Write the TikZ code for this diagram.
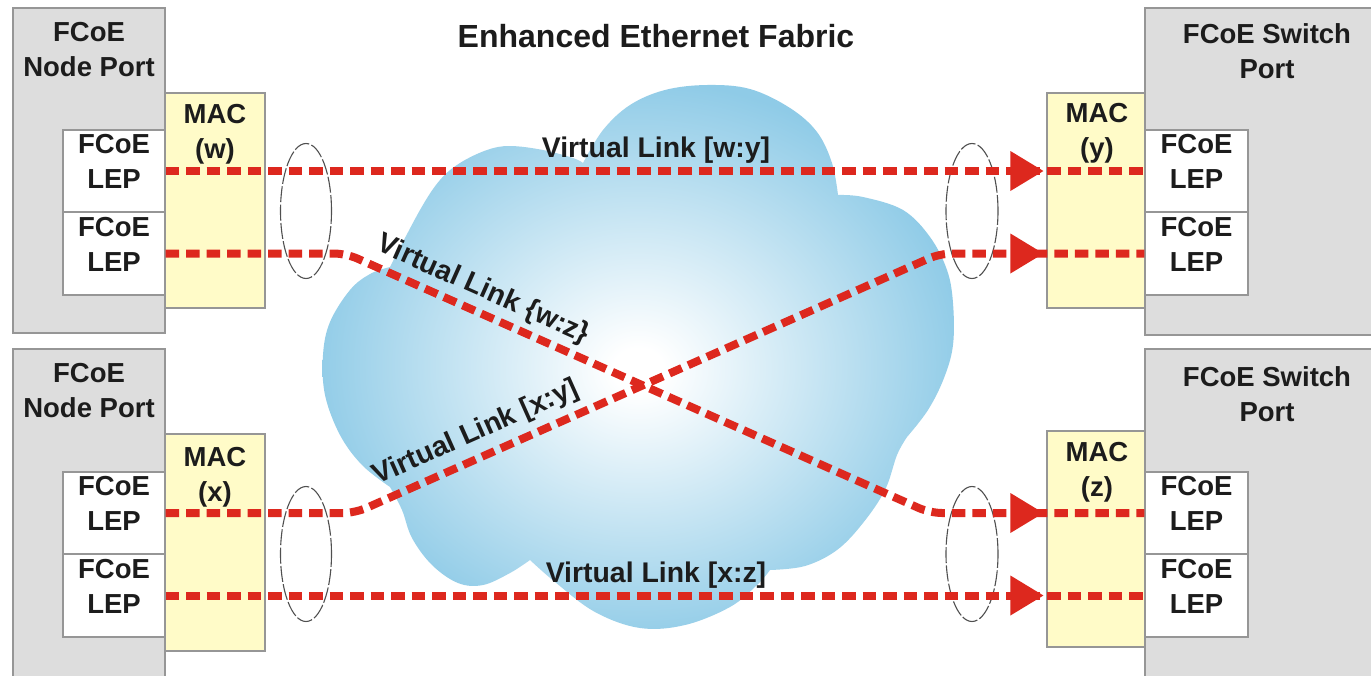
\documentclass[tikz,border=0pt]{standalone}
\usepackage{fontspec}
\setmainfont{Liberation Sans}
\usetikzlibrary{shapes.geometric,fit,decorations.markings,arrows.meta}

\definecolor{portgray}{RGB}{221,221,221}
\definecolor{edgegray}{RGB}{150,150,150}
\definecolor{macyellow}{RGB}{255,251,200}
\definecolor{linkred}{RGB}{221,40,30}
\definecolor{cloudblue}{RGB}{143,203,231}
\definecolor{inkdark}{RGB}{28,28,28}
\definecolor{ringgray}{RGB}{80,80,80}

\newcommand{\fcoeFont}{\fontsize{13.75}{17.5}\selectfont\bfseries}
\newcommand{\linkFont}{\fontsize{14.2}{17}\selectfont\bfseries}
\newcommand{\headFont}{\fontsize{16}{19}\selectfont\bfseries}

% white core fading to sky blue towards the rim of the cloud
\pgfdeclareradialshading{cloudshade}{\pgfpoint{0bp}{-1.2bp}}{%
  color(0bp)=(white); color(2bp)=(white); color(26bp)=(cloudblue); color(50bp)=(cloudblue)}

\begin{document}
\begin{tikzpicture}[x=0.5pt,y=-0.5pt,
  portbox/.style={draw=edgegray, fill=portgray, line width=0.6pt, inner sep=0pt},
  macbox/.style={draw=edgegray, fill=macyellow, line width=0.6pt, inner sep=0pt},
  lepbox/.style={draw=edgegray, fill=white, line width=0.6pt, inner sep=0pt,
                 font=\fcoeFont, text=inkdark, align=center},
  boxtext/.style={font=\fcoeFont, text=inkdark, align=center, inner sep=0pt},
  ring/.style={ellipse, draw=ringgray, line width=0.55pt, dash pattern=on 8pt off 1.2pt, inner sep=0pt},
  link/.style={draw=linkred, line width=4pt, dash pattern=on 6.75pt off 3.5pt},
  tipped/.style={postaction={decorate, decoration={markings,
      mark=at position -50.5pt with {\arrow{Triangle[length=16.5pt,width=20pt,line width=0pt,color=linkred,fill=linkred]}}}}},
  linklabel/.style={font=\linkFont, text=inkdark, inner sep=0pt},
  headtext/.style={font=\headFont, text=inkdark, inner sep=0pt}
]
\useasboundingbox (0,0) rectangle (1371,675);
\fill[white] (0,0) rectangle (1371,675);

% ---------- node ports (left) ----------
\node[portbox, fit={(13,8) (165,333)}] (npW) {};
\node[portbox, fit={(13,349) (165,700)}] (npX) {};
\node[boxtext] at (89,50) {FCoE\\Node Port};
\node[boxtext] at (89,391) {FCoE\\Node Port};

\node[macbox, fit={(165,93) (265,308)}] (macW) {};
\node[macbox, fit={(165,434) (265,651)}] (macX) {};
\node[boxtext, anchor=north] at (215,104) {MAC\\(w)};
\node[boxtext, anchor=north] at (215,447) {MAC\\(x)};

\node[lepbox, fit={(63,130) (165,212)}] (lepW1) {FCoE\\LEP};
\node[lepbox, fit={(63,212) (165,295)}] (lepW2) {FCoE\\LEP};
\node[lepbox, fit={(63,472) (165,554)}] (lepX1) {FCoE\\LEP};
\node[lepbox, fit={(63,554) (165,637)}] (lepX2) {FCoE\\LEP};

% ---------- switch ports (right) ----------
\node[portbox, fit={(1145,8) (1400,335)}] (spY) {};
\node[portbox, fit={(1145,349) (1400,700)}] (spZ) {};
\node[boxtext] at (1267,51.5) {FCoE Switch\\Port};
\node[boxtext] at (1267,394.5) {FCoE Switch\\Port};

\node[macbox, fit={(1047,93) (1145,308)}] (macY) {};
\node[macbox, fit={(1047,431) (1145,647)}] (macZ) {};
\node[boxtext, anchor=north] at (1097,103) {MAC\\(y)};
\node[boxtext, anchor=north] at (1097,442) {MAC\\(z)};

\node[lepbox, fit={(1145,130) (1248,212)}] (lepY1) {FCoE\\LEP};
\node[lepbox, fit={(1145,212) (1248,295)}] (lepY2) {FCoE\\LEP};
\node[lepbox, fit={(1145,472) (1248,554)}] (lepZ1) {FCoE\\LEP};
\node[lepbox, fit={(1145,554) (1248,637)}] (lepZ2) {FCoE\\LEP};

% ---------- the fabric cloud ----------
\shade[shading=cloudshade]
  plot[smooth,tension=0.6] coordinates {(583,163) (603,130) (630,105) (665,90) (707,85) (750,89) (790,108) (817,132) (832,163) (838,195)}
  -- plot[smooth,tension=0.6] coordinates {(838,195) (863,197) (903,210) (930,237) (947,270) (953,303) (953,345) (944,378) (928,410) (907,437)}
  -- plot[smooth,tension=0.6] coordinates {(907,437) (897,455) (885,490) (863,523) (837,550) (805,566) (770,570)}
  -- plot[smooth,tension=0.6] coordinates {(770,570) (757,585) (730,607) (685,625) (640,628) (595,612) (555,582) (530,560)}
  -- plot[smooth,tension=0.6] coordinates {(530,560) (510,573) (483,585) (458,583) (432,565) (412,538) (402,510) (390,487)}
  -- plot[smooth,tension=0.6] coordinates {(390,487) (362,465) (340,435) (325,395) (323,355) (330,322) (350,290) (370,274) (390,267)}
  -- plot[smooth,tension=0.6] coordinates {(390,267) (420,210) (440,180) (460,163) (487,150) (510,146) (543,150) (573,158) (583,163)}
  -- cycle;

\node[headtext, anchor=base] (fabric) at (656,47) {Enhanced Ethernet Fabric};

% ---------- link bundles ----------
\node[ring, minimum width=25.5pt, minimum height=67.5pt] (ringW) at (306,211) {};
\node[ring, minimum width=25.5pt, minimum height=67.5pt] (ringX) at (306,554) {};
\node[ring, minimum width=26pt, minimum height=67.5pt] (ringY) at (972,211) {};
\node[ring, minimum width=26pt, minimum height=67.5pt] (ringZ) at (972,554) {};

% ---------- virtual links ----------
\coordinate (bendWZa) at (346,253.5);
\coordinate (bendWZb) at (930,513);
\coordinate (bendXYa) at (355,513);
\coordinate (bendXYb) at (940,253.5);

\draw[link,tipped] (lepW1.east) -- (lepY1.west);
\draw[link,tipped,rounded corners=6pt] (lepW2.east) -- (bendWZa) -- (bendWZb) -- (lepZ1.west);
\draw[link,tipped,rounded corners=6pt] (lepX1.east) -- (bendXYa) -- (bendXYb) -- (lepY2.west);
\draw[link,tipped] (lepX2.east) -- (lepZ2.west);

\node[linklabel, anchor=base] at (656,157) {Virtual Link [w:y]};
\node[linklabel, rotate=-24] at (483,290) {Virtual Link \{w:z\}};
\node[linklabel, rotate=24] at (476,433) {Virtual Link [x:y]};
\node[linklabel, anchor=base] at (656,582) {Virtual Link [x:z]};
\end{tikzpicture}
\end{document}
